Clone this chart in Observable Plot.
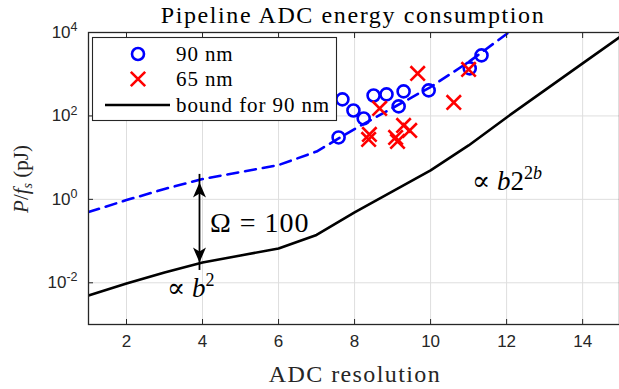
<!DOCTYPE html>
<html><head><meta charset="utf-8">
<script src="https://cdn.jsdelivr.net/npm/d3@7"></script>
<script src="https://cdn.jsdelivr.net/npm/@observablehq/plot@0.6"></script>
<style>
html,body{margin:0;padding:0;background:#fff;overflow:hidden}
#wrap{position:relative;width:619px;height:389px}
</style></head><body><div id="wrap"></div>
<script>
// ---- data ----
const resolution = [1,2,3,4,5,6,7,8,9,10,11,12,13,14,15];
const boundPJ    = [0.00495,0.0096,0.0177,0.0307,0.0452,0.0665,0.14,0.485,1.55,4.93,19.6,92,409,1815,8054];
const omegaRes   = [1,2,3,4,5,6,7,8,9,10,11,12,13];
const omegaPJ    = [0.495,0.96,1.77,3.07,4.52,6.65,14,48.5,155,493,1960,9200,40900];
const nm90Res = [7.58,7.68,7.97,8.24,8.50,8.84,9.29,9.16,9.95,11.03,11.34];
const nm90PJ  = [30.5,249,135,87,309,328,387,169,409,1377,2825];
const nm65Res = [8.39,8.37,8.66,9.08,9.13,9.29,9.45,9.66,10.61,11.00];
const nm65PJ  = [36,27.3,151,30.5,24.5,59,44.9,1045,211,1303];
const xTicks = [2,4,6,8,10,12,14];
const yTicks = [1e-2,1,1e2,1e4];
const yTickExp = ["-2","0","2","4"];
const arrowRes = 3.92, arrowTop = 2.55, arrowBottom = 0.0307;

const bound = resolution.map((r,i)=>({r, v: boundPJ[i]}));
const omega = omegaRes.map((r,i)=>({r, v: omegaPJ[i]}));
const d90 = nm90Res.map((r,i)=>({r, v: nm90PJ[i]}));
const d65 = nm65Res.map((r,i)=>({r, v: nm65PJ[i]}));

const AX = "#262626";
const SERIF = "'Liberation Serif', 'DejaVu Serif', serif";
const SANS = "'Liberation Sans', Arial, sans-serif";

const headUp = {draw(ctx){ctx.moveTo(0,0);ctx.lineTo(6.5,15);ctx.lineTo(0,11);ctx.lineTo(-6.5,15);ctx.closePath();}};
const headDown = {draw(ctx){ctx.moveTo(0,0);ctx.lineTo(6.5,-15);ctx.lineTo(0,-11);ctx.lineTo(-6.5,-15);ctx.closePath();}};

const chart = Plot.plot({
  width: 619, height: 389,
  marginLeft: 88, marginRight: 0, marginTop: 32, marginBottom: 65,
  style: {background: "#fff"},
  x: {domain: [1, 14.97], label: null},
  y: {type: "log", domain: [1e-3, 1e4], label: null},
  marks: [
    Plot.gridX(xTicks, {stroke: "#dedede", strokeOpacity: 1, strokeWidth: 1}),
    Plot.gridY(yTicks, {stroke: "#dedede", strokeOpacity: 1, strokeWidth: 1}),
    Plot.line(bound, {x: "r", y: "v", stroke: "#000", strokeWidth: 2.6, clip: true}),
    Plot.line(omega, {x: "r", y: "v", stroke: "#0000ff", strokeWidth: 2.6, strokeDasharray: "11,7", clip: true}),
    Plot.dot(d90, {x: "r", y: "v", r: 6, stroke: "#0000ff", strokeWidth: 2.6, fill: "none"}),
    Plot.dot(d65, {x: "r", y: "v", r: 6.6, symbol: "times", stroke: "#ff0000", strokeWidth: 2.6}),
    Plot.ruleX([arrowRes], {y1: arrowBottom, y2: arrowTop, stroke: "#000", strokeWidth: 1.8, insetTop: 8, insetBottom: 8}),
    Plot.dot([arrowTop], {x: () => arrowRes, y: d => d, symbol: headUp, fill: "#000", stroke: "none"}),
    Plot.dot([arrowBottom], {x: () => arrowRes, y: d => d, symbol: headDown, fill: "#000", stroke: "none"}),
    Plot.frame({stroke: AX, strokeWidth: 1.3}),
    Plot.axisX(xTicks, {anchor: "bottom", tickSize: -5, tickFormat: () => "", stroke: AX, label: null}),
    Plot.axisX(xTicks, {anchor: "top", tickSize: -5, tickFormat: () => "", stroke: AX, label: null}),
    Plot.axisY(yTicks, {anchor: "left", tickSize: -5, tickFormat: () => "", stroke: AX, label: null}),
    Plot.axisX(xTicks, {anchor: "bottom", tickSize: 0, tickPadding: 10, fontSize: 17, fontFamily: SANS, fill: AX, label: null}),
    Plot.axisY(yTicks, {anchor: "left", tickSize: 0, tickPadding: 11, fontSize: 17, fontFamily: SANS, fill: AX, label: null,
      tickFormat: d => "10^" + yTickExp[yTicks.indexOf(d)]})
  ]
});
document.getElementById("wrap").appendChild(chart);

const svg = d3.select(chart);
// superscript exponents on y tick labels
svg.selectAll('g[aria-label="y-axis tick label"] text').each(function(){
  const t = d3.select(this);
  const s = t.text();
  if (s.indexOf("^") < 0) return;
  const [b, e] = s.split("^");
  t.text(null);
  t.append("tspan").text(b);
  t.append("tspan").attr("dy", "-0.55em").attr("font-size", 12.5).text(e);
});

const X = chart.scale("x"), Y = chart.scale("y");
const px = v => X.apply(v), py = v => Y.apply(v);

function txt(parent, x, y, size, anchor) {
  return parent.append("text").attr("x", x).attr("y", y)
    .attr("text-anchor", anchor).style("text-anchor", anchor)
    .style("font-family", SERIF).style("font-size", size + "px").attr("fill", "#000");
}

// title
txt(svg, 353, 23, 24, "middle").style("letter-spacing", "1.6px").text("Pipeline ADC energy consumption");
// x label
txt(svg, 355, 382, 24, "middle").style("letter-spacing", "1.4px").attr("fill", AX).text("ADC resolution");
// y label
const yl = svg.append("text").attr("transform", "translate(28,179) rotate(-90)")
  .attr("text-anchor", "middle").style("text-anchor", "middle")
  .style("font-family", SERIF).style("font-size", "21px").attr("fill", AX);
yl.append("tspan").style("font-style", "italic").text("P");
yl.append("tspan").text("/");
yl.append("tspan").style("font-style", "italic").text("f");
yl.append("tspan").style("font-style", "italic").style("font-size", "14px").attr("dy", 4).text("s");
yl.append("tspan").attr("dy", -4).text(" (pJ)");

// annotations
const annOmega = {r: 4.21, v: 0.28};
const annB2 = {r: 3.08, v: 0.0044};
const annExp = {r: 11.1, v: 1.63};
txt(svg, px(annOmega.r), py(annOmega.v) + 10, 28, "start").style("letter-spacing", "1px").text("Ω = 100");
const t2 = txt(svg, px(annB2.r), py(annB2.v), 27, "start");
t2.append("tspan").text("∝ ");
t2.append("tspan").style("font-style", "italic").text("b");
t2.append("tspan").style("font-size", "18px").attr("dy", -11).text("2");
const t3 = txt(svg, px(annExp.r), py(annExp.v), 27, "start");
t3.append("tspan").text("∝ ");
t3.append("tspan").style("font-style", "italic").text("b");
t3.append("tspan").text("2");
t3.append("tspan").style("font-size", "18px").attr("dy", -11).text("2");
t3.append("tspan").style("font-size", "18px").style("font-style", "italic").text("b");

// legend
const lg = svg.append("g");
lg.append("rect").attr("x", 92.5).attr("y", 37.5).attr("width", 244).attr("height", 83)
  .attr("fill", "#fff").attr("stroke", AX).attr("stroke-width", 1.1);
lg.append("circle").attr("cx", 138).attr("cy", 54).attr("r", 6).attr("fill", "none").attr("stroke", "#0000ff").attr("stroke-width", 2.6);
lg.append("path").attr("d", d3.symbol(d3.symbolTimes, 6.6*6.6*Math.PI)()).attr("transform", "translate(138,79)")
  .attr("fill", "none").attr("stroke", "#ff0000").attr("stroke-width", 2.6);
lg.append("line").attr("x1", 105).attr("x2", 170).attr("y1", 105).attr("y2", 105).attr("stroke", "#000").attr("stroke-width", 2.6);
[["90 nm", 54], ["65 nm", 79], ["bound for 90 nm", 105]].forEach(([s, y]) => {
  txt(lg, 176, y + 7, 21, "start").style("letter-spacing", "0.9px").text(s);
});
</script></body></html>
